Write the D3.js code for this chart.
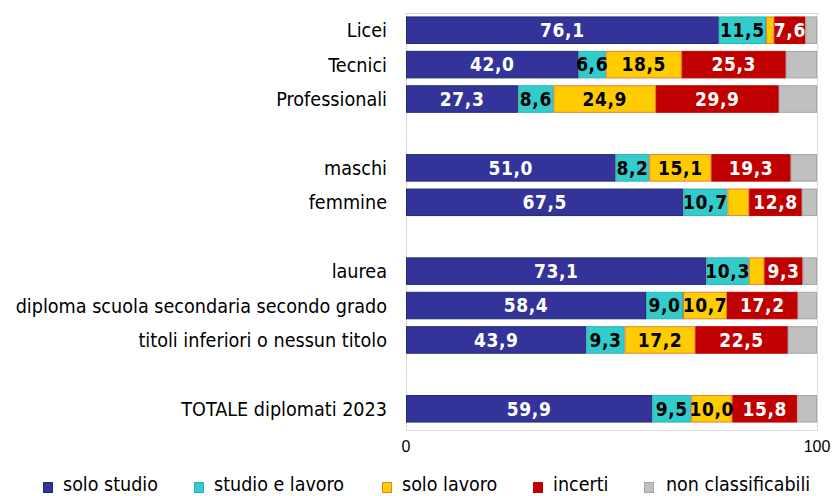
<!DOCTYPE html>
<html>
<head>
<meta charset="utf-8">
<script src="https://cdn.jsdelivr.net/npm/d3@7"></script>
<style>
  html, body { margin: 0; padding: 0; background: #ffffff; }
  svg text { font-family: "DejaVu Sans Condensed", "DejaVu Sans", sans-serif; }
  svg text.tick { font-family: "Liberation Sans", Arial, sans-serif; }
</style>
</head>
<body>
<svg id="chart" width="832" height="496"></svg>
<script>
// Row labels (null = empty spacer row between groups)
const categories = [
  "Licei", "Tecnici", "Professionali", null,
  "maschi", "femmine", null,
  "laurea", "diploma scuola secondaria secondo grado", "titoli inferiori o nessun titolo", null,
  "TOTALE diplomati 2023"
];
// Percentages for each non-empty row, in row order
const soloStudio   = [76.1, 42.0, 27.3, 51.0, 67.5, 73.1, 58.4, 43.9, 59.9];
const studioLavoro = [11.5,  6.6,  8.6,  8.2, 10.7, 10.3,  9.0,  9.3,  9.5];
const soloLavoro   = [ 2.0, 18.5, 24.9, 15.1,  5.3,  3.8, 10.7, 17.2, 10.0];
const incerti      = [ 7.6, 25.3, 29.9, 19.3, 12.8,  9.3, 17.2, 22.5, 15.8];
const nonClass     = [ 2.8,  7.6,  9.3,  6.4,  3.7,  3.5,  4.7,  7.1,  4.8];
const seriesNames  = ["solo studio", "studio e lavoro", "solo lavoro", "incerti", "non classificabili"];
const xTicks = [0, 100];

const fills   = ["#333399", "#33cccc", "#ffcc00", "#c00000", "#c0c0c0"];
const strokes = ["#1f2d6e", "#2bb3b3", "#ed7d31", "#c00000", "#a6a6a6"];
const labelColors = ["#ffffff", "#000000", "#000000", "#ffffff", null];

const svg = d3.select("#chart");
const plotLeft = 406, plotRight = 817, plotTop = 13, plotBottom = 426;

const slotKeys = categories.map((c, i) => "r" + i);
const y = d3.scaleBand().domain(slotKeys).range([plotTop, plotBottom]).paddingInner(0.2).paddingOuter(0.1);
const x = d3.scaleLinear().domain([0, 100]).range([plotLeft, plotRight]);

// Build row records
const seriesValues = [soloStudio, studioLavoro, soloLavoro, incerti, nonClass];
const rows = [];
let k = 0;
categories.forEach((c, i) => {
  if (c === null) return;
  const rec = { key: slotKeys[i], name: c };
  seriesNames.forEach((s, j) => rec[s] = seriesValues[j][k]);
  rows.push(rec);
  k++;
});

const stack = d3.stack().keys(seriesNames)(rows);

// Plot frame
svg.append("rect")
  .attr("x", plotLeft + 0.5).attr("y", 13.5)
  .attr("width", plotRight - plotLeft).attr("height", 417)
  .attr("fill", "none").attr("stroke", "#d9d9d9").attr("stroke-width", 1);

// Bars
const layers = svg.append("g").selectAll("g").data(stack).join("g")
  .attr("fill", (d, i) => fills[i]).attr("stroke", (d, i) => strokes[i]).attr("stroke-width", 1);
layers.selectAll("rect").data(d => d).join("rect")
  .attr("x", d => x(d[0]) + 0.5)
  .attr("y", d => y(d.data.key) + 0.5)
  .attr("width", d => Math.max(0, x(d[1]) - x(d[0]) - 1))
  .attr("height", y.bandwidth() - 1);

// Value labels
const fmt = v => d3.format(".1f")(v).replace(".", ",");
stack.forEach((layer, i) => {
  if (!labelColors[i]) return;
  svg.append("g").selectAll("text").data(layer.filter(d => d[1] - d[0] >= 6)).join("text")
    .attr("x", d => (x(d[0]) + x(d[1])) / 2)
    .attr("y", d => y(d.data.key) + y.bandwidth() / 2)
    .attr("dy", "0.36em")
    .attr("text-anchor", "middle")
    .attr("font-size", 19).attr("font-weight", "bold")
    .attr("letter-spacing", 0.6)
    .attr("fill", labelColors[i])
    .text(d => fmt(d[1] - d[0]));
});

// Category labels
svg.append("g").selectAll("text").data(rows).join("text")
  .attr("x", 387)
  .attr("y", d => y(d.key) + y.bandwidth() / 2)
  .attr("dy", "0.36em")
  .attr("text-anchor", "end")
  .attr("font-size", 19.6).attr("fill", "#000")
  .text(d => d.name);

// X tick labels
svg.append("g").selectAll("text").data(xTicks).join("text")
  .attr("class", "tick")
  .attr("x", d => x(d)).attr("y", 446).attr("dy", "0.36em")
  .attr("text-anchor", "middle").attr("font-size", 16).attr("fill", "#000")
  .text(d => d);

// Legend
const legendSwatchX = [43, 194, 382, 533, 644];
const legendTextX   = [63, 214, 402, 553, 666];
const lg = svg.append("g").selectAll("g").data(seriesNames).join("g");
lg.append("rect")
  .attr("x", (d, i) => legendSwatchX[i] + 0.5).attr("y", 482.5).attr("width", 9).attr("height", 10)
  .attr("fill", (d, i) => fills[i]).attr("stroke", (d, i) => strokes[i]);
lg.append("text")
  .attr("x", (d, i) => legendTextX[i]).attr("y", 490.5)
  .attr("font-size", 19.5).attr("fill", "#000")
  .text(d => d);
</script>
</body>
</html>
